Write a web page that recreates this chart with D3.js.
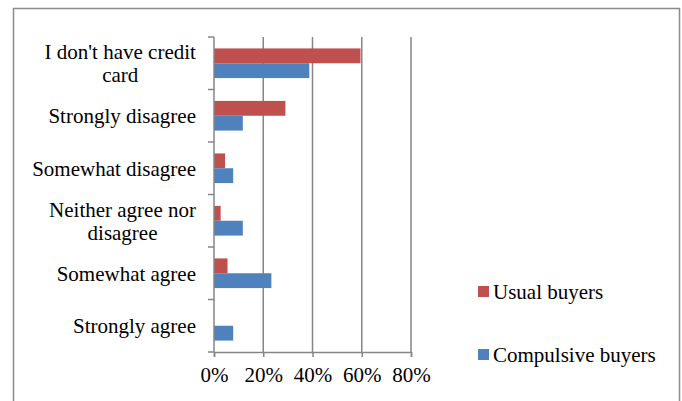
<!DOCTYPE html>
<html>
<head>
<meta charset="utf-8">
<script src="https://cdn.jsdelivr.net/npm/d3@7"></script>
<style>
  body { margin: 0; background: #fff; }
</style>
</head>
<body>
<div id="chart"></div>
<script>
// chart data
var categories = ["I don't have credit card", "Strongly disagree", "Somewhat disagree",
                  "Neither agree nor disagree", "Somewhat agree", "Strongly agree"];
var labelLines = [["I don't have credit", "card"], ["Strongly disagree"], ["Somewhat disagree"],
                  ["Neither agree nor", "disagree"], ["Somewhat agree"], ["Strongly agree"]];
var seriesNames = ["Usual buyers", "Compulsive buyers"];
var usualBuyers = [0.595, 0.29, 0.045, 0.027, 0.055, 0];
var compulsiveBuyers = [0.387, 0.117, 0.078, 0.117, 0.233, 0.078];
var xTicks = [0, 0.2, 0.4, 0.6, 0.8];
var colors = ["#C0504D", "#4F81BD"];

var serif = '"Liberation Serif", "Times New Roman", serif';
var width = 682, height = 401;
var plot = {left: 214, right: 411, top: 37, bottom: 352};

var svg = d3.select('#chart').append('svg')
  .attr('width', width).attr('height', height);

// outer frame
svg.append('rect')
  .attr('x', 13.5).attr('y', 8.5)
  .attr('width', 666).attr('height', 420)
  .attr('fill', 'none').attr('stroke', '#8c8c8c').attr('stroke-width', 1.5);

var x = d3.scaleLinear().domain([0, 0.8]).range([plot.left, plot.right]);
var y = d3.scaleBand().domain(categories).range([plot.top, plot.bottom]);
var yInner = d3.scaleBand().domain(seriesNames)
  .range([0, y.bandwidth()]).paddingOuter(0.77);

// gridlines
svg.append('g').selectAll('line')
  .data(xTicks.slice(1))
  .join('line')
    .attr('x1', d => x(d)).attr('x2', d => x(d))
    .attr('y1', plot.top).attr('y2', plot.bottom)
    .attr('stroke', '#868686').attr('stroke-width', 1.5);

// bars
var rows = categories.map((c, i) => ({cat: c, vals: [usualBuyers[i], compulsiveBuyers[i]]}));
svg.append('g').selectAll('g')
  .data(rows)
  .join('g')
    .attr('transform', d => 'translate(0,' + y(d.cat) + ')')
  .selectAll('rect')
  .data(d => d.vals.map((v, j) => ({name: seriesNames[j], v: v, j: j})))
  .join('rect')
    .attr('x', x(0))
    .attr('y', d => yInner(d.name))
    .attr('width', d => x(d.v) - x(0))
    .attr('height', yInner.bandwidth())
    .attr('fill', d => colors[d.j]);

// y axis line with ticks at band edges
var edges = categories.map(c => y(c)).concat([plot.bottom]);
var yAx = svg.append('g');
yAx.append('line')
  .attr('x1', x(0)).attr('x2', x(0))
  .attr('y1', plot.top).attr('y2', plot.bottom)
  .attr('stroke', '#868686').attr('stroke-width', 1.5);
yAx.selectAll('line.tick')
  .data(edges)
  .join('line').attr('class', 'tick')
    .attr('x1', x(0) - 6).attr('x2', x(0))
    .attr('y1', d => d).attr('y2', d => d)
    .attr('stroke', '#868686').attr('stroke-width', 1.5);

// category labels: block right-aligned, lines centred within it
var lab = svg.append('g').selectAll('text')
  .data(categories)
  .join('text')
    .attr('text-anchor', 'middle')
    .style('font-family', serif)
    .style('font-size', '21px')
    .attr('fill', '#000');
lab.each(function(c, i) {
  var lines = labelLines[i];
  var t = d3.select(this);
  var cy = y(c) + y.bandwidth() / 2;
  lines.forEach((ln, k) => {
    t.append('tspan')
      .attr('x', 0)
      .attr('y', cy + (k - (lines.length - 1) / 2) * 23)
      .attr('dy', '0.35em')
      .text(ln);
  });
  var bb = this.getBBox();
  t.selectAll('tspan').attr('x', (x(0) - 18) - bb.width / 2);
});

// x axis
var xAx = svg.append('g').attr('transform', 'translate(0,' + plot.bottom + ')');
xAx.call(d3.axisBottom(x).tickValues(xTicks).tickFormat(d3.format('.0%')).tickSize(5).tickPadding(10))
  .call(g => g.select('.domain').attr('stroke', '#868686').attr('stroke-width', 1.5))
  .call(g => g.selectAll('.tick line').attr('stroke', '#868686').attr('stroke-width', 1.5))
  .call(g => g.selectAll('.tick text')
    .style('font-family', serif)
    .style('font-size', '21px').attr('fill', '#000'));

// legend
var legend = svg.append('g').selectAll('g')
  .data(seriesNames)
  .join('g')
    .attr('transform', (d, i) => 'translate(478,' + (286 + i * 63) + ')');
legend.append('rect')
  .attr('width', 11).attr('height', 11)
  .attr('fill', (d, i) => colors[i]);
legend.append('text')
  .attr('x', 15).attr('y', 6).attr('dy', '0.35em')
  .style('font-family', serif)
  .style('font-size', '21px')
  .attr('fill', '#000')
  .text(d => d);
</script>
</body>
</html>
